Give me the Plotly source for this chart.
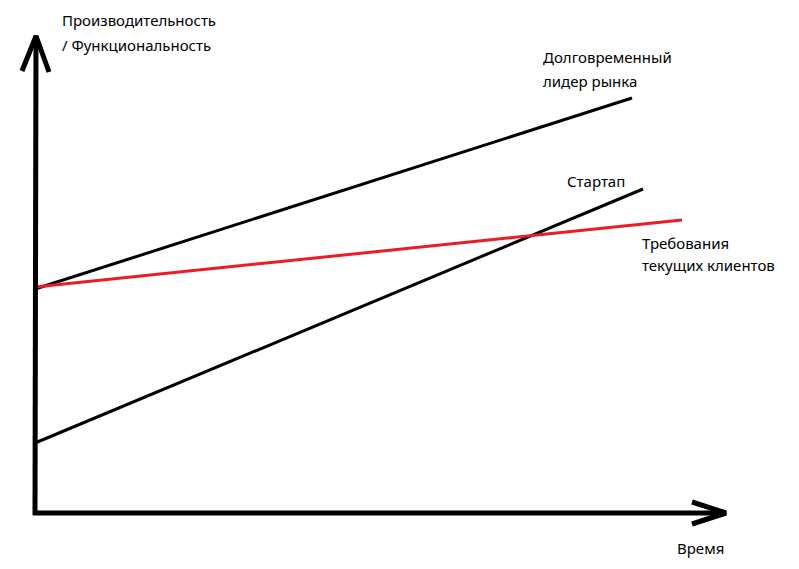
import plotly.graph_objects as go

# Data (arbitrary units: time vs performance)
time_span = [0, 597]
leader_perf = [224, 415]
startup_time = [0, 608]
startup_perf = [70, 324]
req_time = [0, 647]
req_perf = [226, 293]

y_label_lines = ["Производительность", "/ Функциональность"]
leader_lines = ["Долговременный", "лидер рынка"]
startup_lines = ["Стартап"]
req_lines = ["Требования", "текущих клиентов"]
x_label_lines = ["Время"]

BLACK = "#000000"
RED = "#ED1C24"
FONT = "Noto Sans"

fig = go.Figure()

# Series
fig.add_trace(go.Scatter(x=time_span, y=leader_perf, mode="lines",
                         line=dict(color=BLACK, width=3), hoverinfo="skip"))
fig.add_trace(go.Scatter(x=startup_time, y=startup_perf, mode="lines",
                         line=dict(color=BLACK, width=3), hoverinfo="skip"))
fig.add_trace(go.Scatter(x=req_time, y=req_perf, mode="lines",
                         line=dict(color=RED, width=3), hoverinfo="skip"))

# Axes drawn as thick arrows
axis_style = dict(color=BLACK, width=5)
fig.add_trace(go.Scatter(x=[0, 1], y=[-2, 477], mode="lines", line=axis_style, hoverinfo="skip"))
fig.add_trace(go.Scatter(x=[-13, 1, 14], y=[442, 477, 441], mode="lines", line=axis_style, hoverinfo="skip"))
fig.add_trace(go.Scatter(x=[-2, 691], y=[0, 0], mode="lines", line=axis_style, hoverinfo="skip"))
fig.add_trace(go.Scatter(x=[657, 691, 657], y=[11, 0, -11], mode="lines", line=axis_style, hoverinfo="skip"))

def note(x, y, lines, gap=24):
    for i, t in enumerate(lines):
        fig.add_annotation(x=x, y=y - i * gap, text=t, showarrow=False, xanchor="left",
                           yanchor="middle", align="left",
                           font=dict(family=FONT, size=15, color=BLACK))

note(25, 493, y_label_lines, gap=25)
note(506, 456, leader_lines)
note(530, 332, startup_lines)
note(605, 270, req_lines, gap=22)
note(640, -35, x_label_lines)

fig.update_layout(
    width=799, height=569,
    margin=dict(l=0, r=0, t=0, b=0),
    paper_bgcolor="white", plot_bgcolor="white",
    showlegend=False,
    xaxis=dict(range=[-27, 772], visible=False, fixedrange=True),
    yaxis=dict(range=[-64, 505], visible=False, fixedrange=True),
)

fig.write_html("out.html")
